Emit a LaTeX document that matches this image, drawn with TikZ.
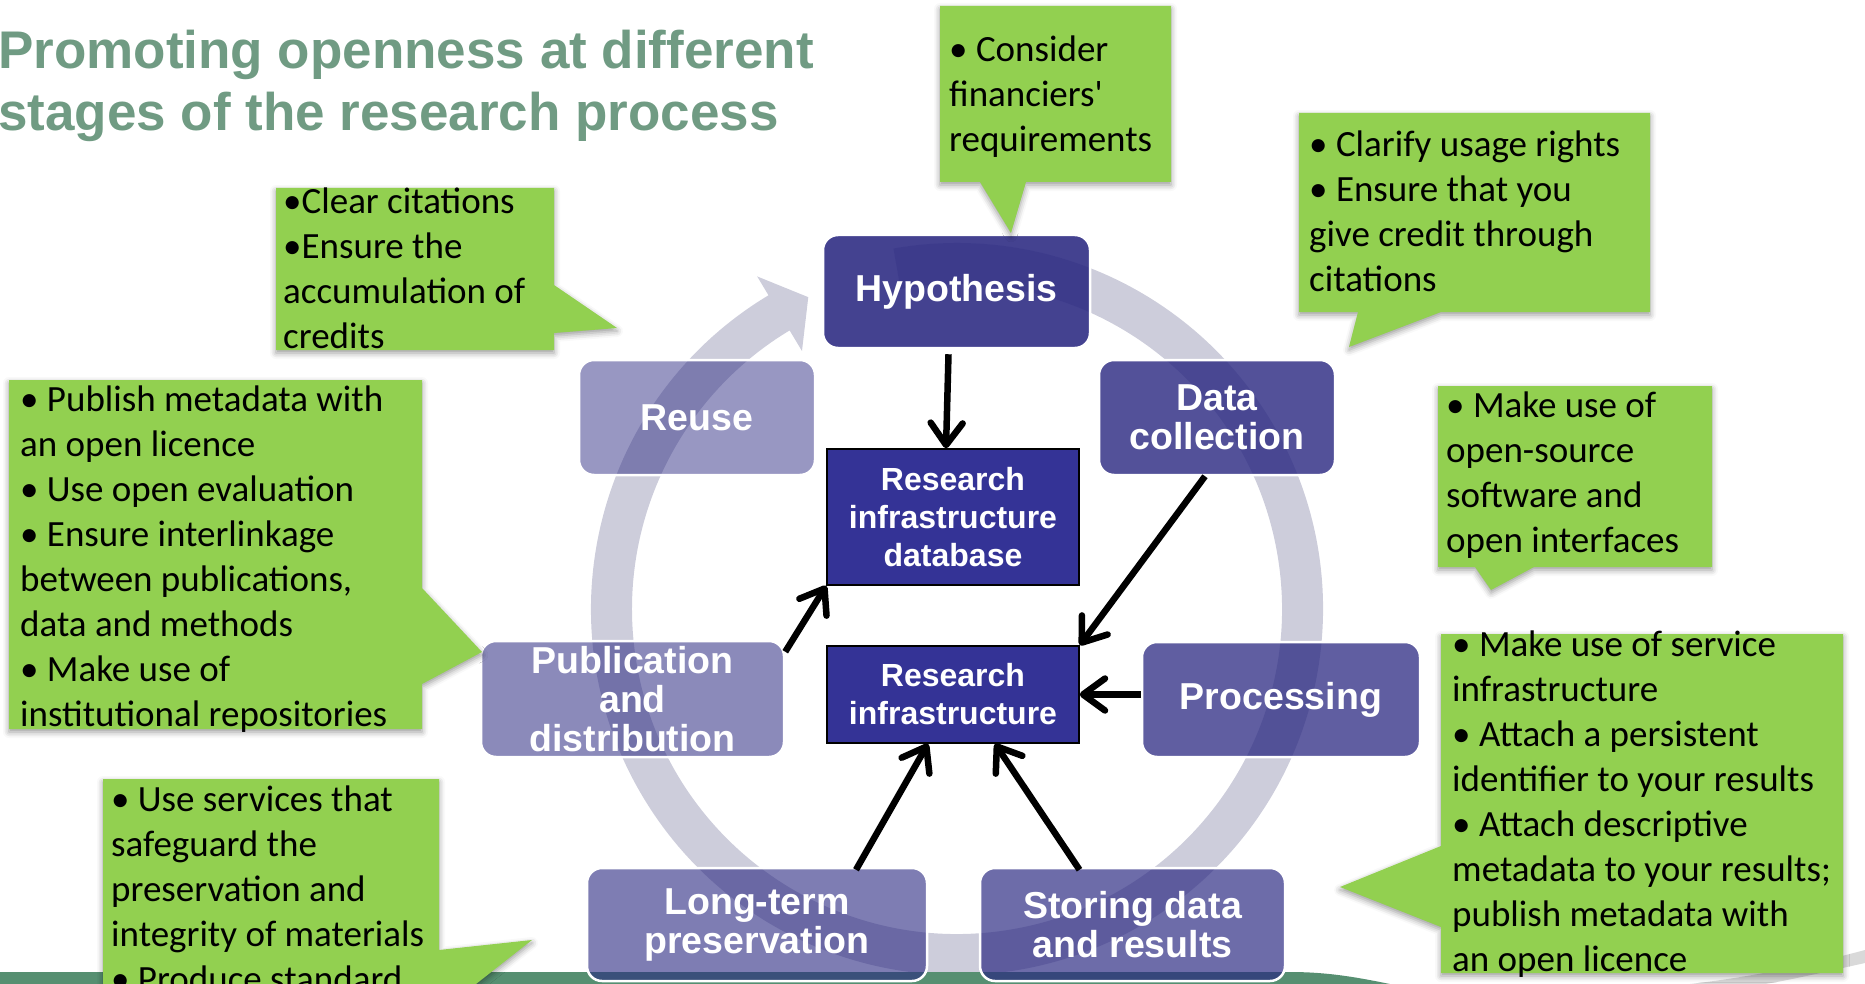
\documentclass[tikz,border=0pt]{standalone}
\usepackage{fontspec}
\setmainfont{Carlito}
\newfontfamily\boxfont{Liberation Sans}
\usetikzlibrary{arrows.meta,shadows.blur}

\definecolor{titlegreen}{RGB}{112,155,131}
\definecolor{calloutgreen}{RGB}{146,208,80}
\definecolor{stageblue}{RGB}{40,38,128}
\definecolor{infrablue}{RGB}{52,51,150}
\definecolor{ringgray}{RGB}{205,205,219}
\definecolor{bandgreen}{RGB}{86,143,113}

\tikzset{
  stage/.style={rounded corners=15pt, draw=white, line width=2.5pt, fill=stageblue,
    text=white, text opacity=1, align=center, inner sep=0pt,
    font=\boxfont\bfseries\fontsize{37.5}{39}\selectfont},
  infra/.style={draw=black, line width=1.5pt, fill=infrablue, text=white, align=center,
    inner sep=0pt, font=\boxfont\bfseries\fontsize{32}{38}\selectfont},
  flow/.style={line width=6.5pt, -{Straight Barb[length=22pt,width=32pt,round]}},
  callout/.style={fill=calloutgreen, blur shadow={shadow xshift=0pt, shadow yshift=-3pt,
    shadow blur radius=6pt, shadow opacity=40}},
  callouttext/.style={anchor=north west, align=left, inner sep=0pt,
    font=\fontsize{37}{45}\selectfont}
}

\begin{document}
\begin{tikzpicture}[x=1pt,y=-1pt]

  \useasboundingbox (0,0) rectangle (1865,984);

  \coordinate (O) at (957,609);

  % Draw cycle ring
  \fill[ringgray] ([shift={(-100:325)}]O) arc[start angle=-100, end angle=239, radius=325]
    -- ([shift={(239:301)}]O) -- ([shift={(244.5:345.5)}]O) -- ([shift={(239:388)}]O)
    -- ([shift={(239:366)}]O) arc[start angle=239, end angle=-100, radius=366] -- cycle;

  % Draw bottom band
  \fill[bandgreen] (0,972) -- (1290,972) .. controls (1330,972) and (1360,978) .. (1390,984) -- (0,984) -- cycle;
  \fill[gray!30] (1690,984) .. controls (1760,976) and (1820,962) .. (1865,950) -- (1865,963) .. controls (1820,973) and (1790,980) .. (1765,984) -- cycle;

  % Title
  \node[anchor=north west, inner sep=0pt, align=left, text=titlegreen,
    font=\boxfont\bfseries\fontsize{53}{62}\selectfont] (title) at (-2,30)
    {Promoting openness at different\\stages of the research process};

  % Stages
  \node[stage, fill opacity=0.87, minimum width=267pt, minimum height=113pt] (hyp) at (956.5,291.5) {Hypothesis};
  \node[stage, fill opacity=0.80, minimum width=236pt, minimum height=115pt] (datacoll) at (1217,417.5) {Data\\collection};
  \node[stage, fill opacity=0.74, minimum width=278pt, minimum height=115pt] (proc) at (1281,699.5) {Processing};
  \node[stage, fill opacity=0.68, minimum width=305pt, minimum height=113pt] (storing) at (1132.5,924.5) {Storing data\\and results};
  \node[stage, fill opacity=0.60, minimum width=340pt, minimum height=113pt] (longterm) at (757,924.5) {Long-term\\preservation};
  \node[stage, fill opacity=0.54, minimum width=303pt, minimum height=116pt] (publ) at (632.5,699) {Publication\\and\\distribution};
  \node[stage, fill opacity=0.48, minimum width=236pt, minimum height=115pt] (reuse) at (697,417.5) {Reuse};

  % Infrastructure
  \node[infra, minimum width=252pt, minimum height=136pt] (ridb) at (953,517) {Research\\infrastructure\\database};
  \node[infra, minimum width=252pt, minimum height=97pt] (ri) at (953,694.5) {Research\\infrastructure};

  % Draw flows
  \draw[flow] ([xshift=-8pt,yshift=-5pt]hyp.south) -- ([xshift=-7pt]ridb.north);
  \draw[flow] ([xshift=-12pt]datacoll.south) -- (ri.north east);
  \draw[flow] (proc.west |- ri.east) -- (ri.east);
  \draw[flow] ([yshift=-12pt]publ.north east) -- (ridb.south west);
  \draw[flow] ([xshift=99pt,yshift=-3pt]longterm.north) -- ([xshift=-25pt]ri.south);
  \draw[flow] ([xshift=-53pt,yshift=-3pt]storing.north) -- ([xshift=42pt]ri.south);

  % Draw callouts
  \fill[callout] (940,6) -- (1171,6) -- (1171,182) -- (1026,182) -- (1011,233) -- (980,182) -- (940,182) -- cycle;
  \fill[callout] (1299,113) -- (1650,113) -- (1650,312) -- (1441,312) -- (1349,347) -- (1358,312) -- (1299,312) -- cycle;
  \fill[callout] (276,188) -- (554,188) -- (554,285) -- (617,328) -- (554,333) -- (554,350) -- (276,350) -- cycle;
  \fill[callout] (9,380) -- (422,380) -- (422,588) -- (482,652) -- (422,684) -- (422,729) -- (9,729) -- cycle;
  \fill[callout] (103,779) -- (439,779) -- (439,950) -- (532,940) -- (462,995) -- (103,995) -- cycle;
  \fill[callout] (1438,386) -- (1712,386) -- (1712,567) -- (1534,567) -- (1491,590) -- (1475,567) -- (1438,567) -- cycle;
  \fill[callout] (1441,634) -- (1843,634) -- (1843,973) -- (1441,973) -- (1441,927) -- (1340,887) -- (1441,846) -- cycle;

  \node[callouttext] (funders) at (949,35.5) {• Consider\\financiers\textquotesingle\\requirements};
  \node[callouttext] (rights) at (1309,131) {• Clarify usage rights\\• Ensure that you\\give credit through\\citations};
  \node[callouttext] (citations) at (283,188) {•Clear citations\\•Ensure the\\accumulation of\\credits};
  \node[callouttext] (publish) at (20,385.5) {• Publish metadata with\\an open licence\\• Use open evaluation\\• Ensure interlinkage\\between publications,\\data and methods\\• Make use of\\institutional repositories};
  \node[callouttext] (preserve) at (111,785.5) {• Use services that\\safeguard the\\preservation and\\integrity of materials\\• Produce standard};
  \node[callouttext] (software) at (1446,392) {• Make use of\\open-source\\software and\\open interfaces};
  \node[callouttext] (service) at (1452,631) {• Make use of service\\infrastructure\\• Attach a persistent\\identifier to your results\\• Attach descriptive\\metadata to your results;\\publish metadata with\\an open licence};

\end{tikzpicture}
\end{document}
